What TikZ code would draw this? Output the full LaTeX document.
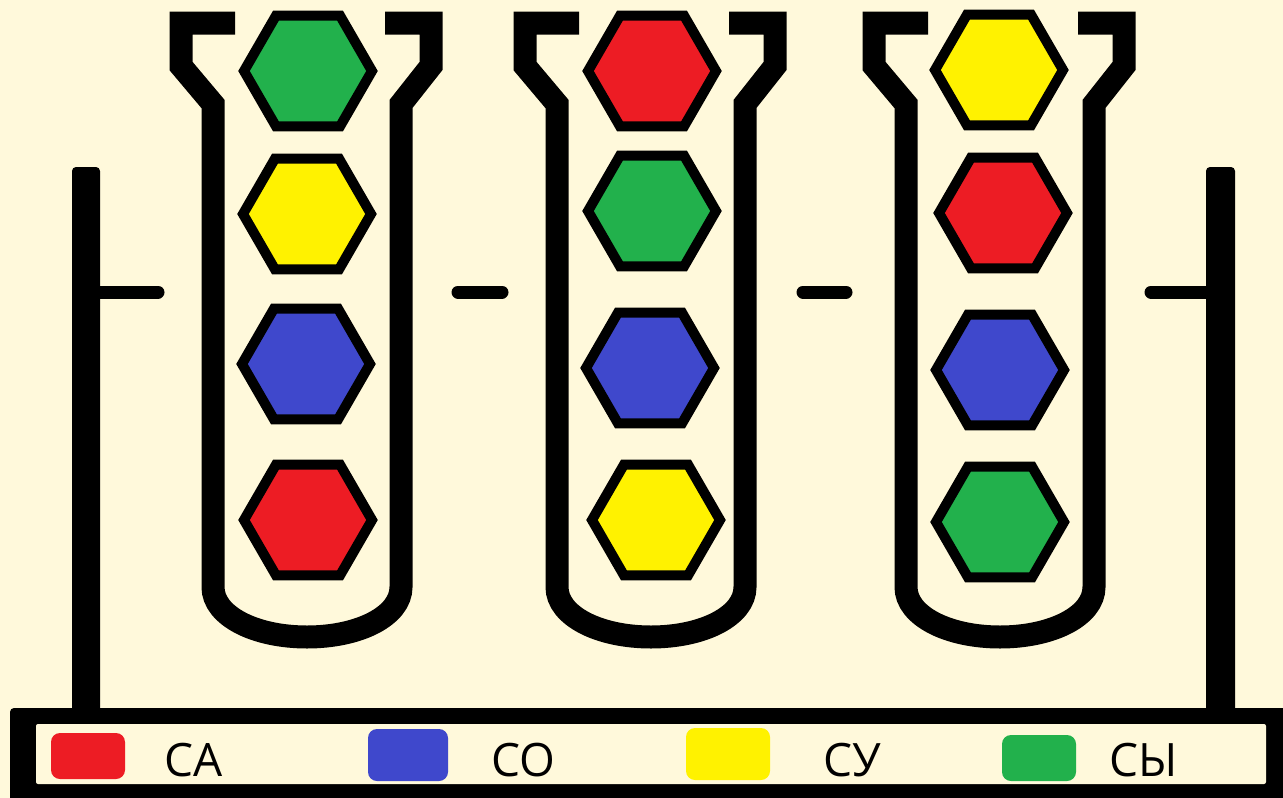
\documentclass[tikz,border=0pt]{standalone}
\usepackage{fontspec}
\setmainfont{Open Sans}
\usetikzlibrary{shapes.geometric}
\definecolor{paper}{RGB}{255,249,219}
\definecolor{hexred}{RGB}{237,28,36}
\definecolor{hexblue}{RGB}{63,72,204}
\definecolor{hexyellow}{RGB}{255,242,0}
\definecolor{hexgreen}{RGB}{34,177,76}
\tikzset{
  hexcell/.style={regular polygon, regular polygon sides=6, minimum size=128pt, inner sep=0pt, draw=black, line width=10pt},
  tubewall/.style={line width=23pt},
  rackbar/.style={line width=13pt, line cap=round},
  swatch/.style={rounded corners=9pt, minimum width=74pt, minimum height=46pt, inner sep=0pt},
  legendtext/.style={anchor=base west, inner sep=0pt, font=\fontsize{46}{50}\selectfont}
}
\newcommand{\testtube}[1]{%
  \draw[tubewall] ({#1-72},23) -- ({#1-126},23) -- ({#1-126},66) -- ({#1-94},104) -- ({#1-94},587)
    .. controls ({#1-94},616) and ({#1-52},637) .. ({#1},637)
    .. controls ({#1+52},637) and ({#1+94},616) .. ({#1+94},587)
    -- ({#1+94},104) -- ({#1+124},66) -- ({#1+124},23) -- ({#1+78},23);}
\begin{document}
\begin{tikzpicture}[x=1pt,y=-1pt]
    \useasboundingbox (0,0) rectangle (1283,798);
    \fill[paper] (0,0) rectangle (1283,798);
    \fill[rounded corners=4pt] (72,167) rectangle (100,712);
    \fill[rounded corners=4pt] (1206,167) rectangle (1235,712);
    \draw[rackbar] (96,292) -- (158,292);
    \draw[rackbar] (458,292) -- (502,292);
    \draw[rackbar] (803,292) -- (846,292);
    \draw[rackbar] (1151,292) -- (1210,292);
    \fill[rounded corners=4pt] (10,708) rectangle (1290,805);
    \fill[paper, rounded corners=2pt] (36,724) rectangle (1266,784);
    \testtube{307}
    \testtube{651}
    \testtube{1000}
    \foreach \name/\x/\y/\col in {ta/308/71/hexgreen, tb/307/214/hexyellow, tc/306/364/hexblue, td/308/520/hexred,
        ua/652/71/hexred, ub/652/211/hexgreen, uc/650/368/hexblue, ud/656/520/hexyellow,
        va/999/70/hexyellow, vb/1003/213/hexred, vc/1000/370/hexblue, vd/1000/522/hexgreen}
      \node[hexcell, fill=\col] (\name) at (\x,\y) {};
    \node[swatch, fill=hexred] (keyA) at (88,756) {};
    \node[legendtext] (labA) at (164,776) {СА};
    \node[swatch, fill=hexblue, minimum width=80pt, minimum height=52pt] (keyO) at (408,755) {};
    \node[legendtext] (labO) at (491,776) {СО};
    \node[swatch, fill=hexyellow, minimum width=84pt, minimum height=52pt] (keyU) at (728,754) {};
    \node[legendtext] (labU) at (823,776) {СУ};
    \node[swatch, fill=hexgreen] (keyY) at (1039,758) {};
    \node[legendtext] (labY) at (1109,776) {СЫ};
\end{tikzpicture}
\end{document}
